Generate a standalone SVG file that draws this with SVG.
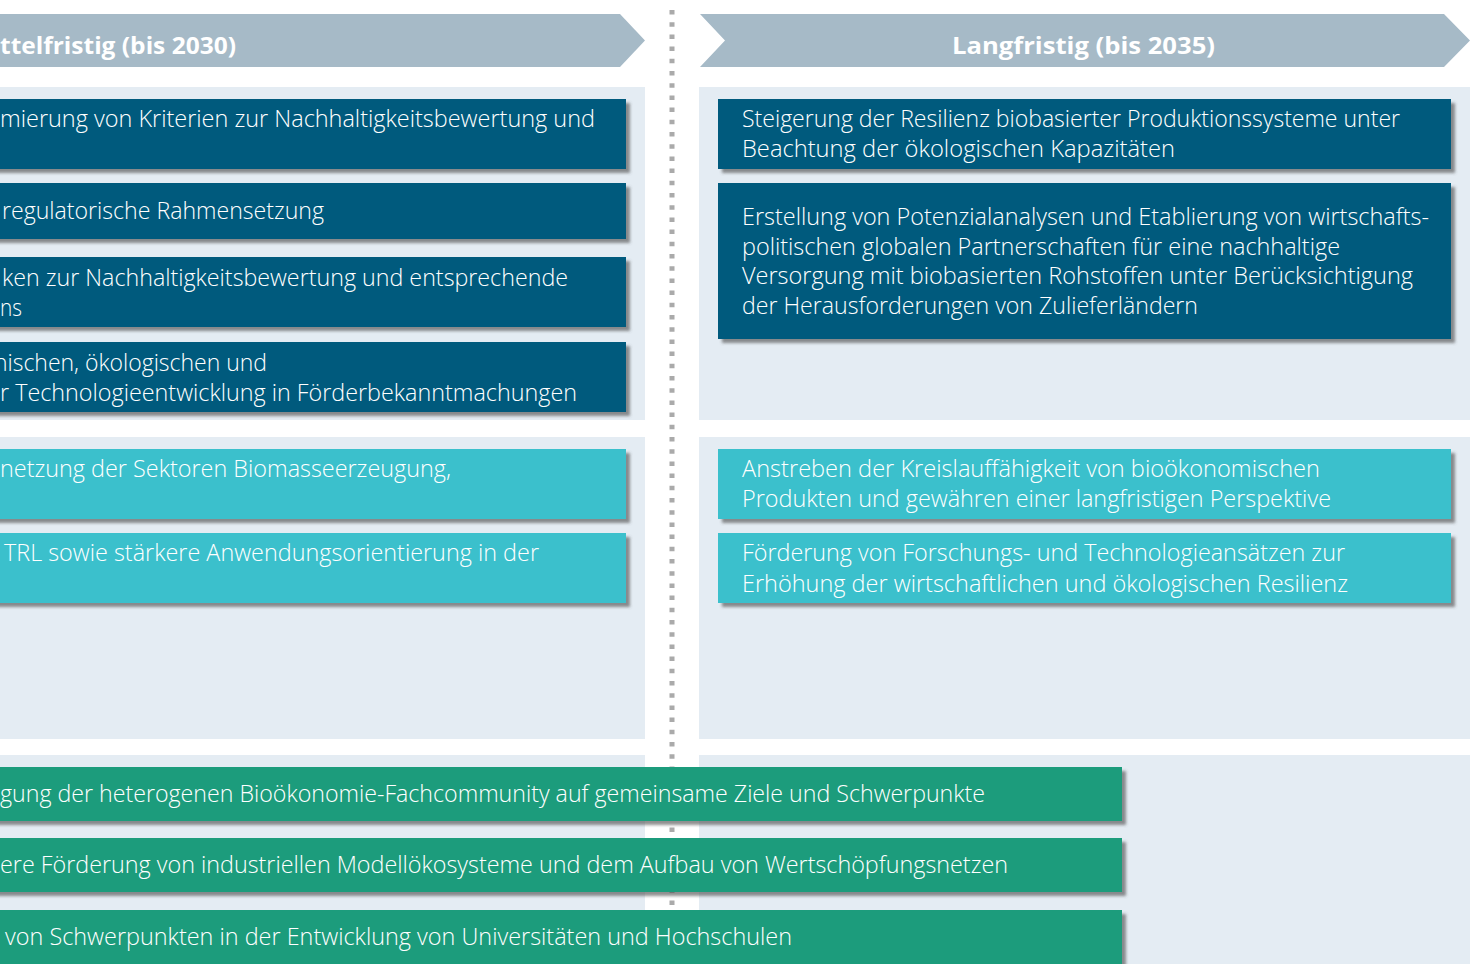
<svg xmlns="http://www.w3.org/2000/svg" width="1475" height="964" viewBox="0 0 1475 964">
<style>
.panel{fill:#e4ecf3}
.hdr{fill:#a6bac7}
.hdrtxt{font-family:"Open Sans","Liberation Sans",sans-serif;font-weight:700;font-size:24px;fill:#ffffff}
.dark{fill:#005a7d;filter:url(#sh)}
.teal{fill:#3bc0cc;filter:url(#sh)}
.green{fill:#1a9c7c;filter:url(#sh)}
.t{font-family:"Open Sans","Liberation Sans",sans-serif;font-weight:300;font-size:23px;fill:#ffffff}
</style>
<defs>
<filter id="sh" x="-5%" y="-20%" width="110%" height="150%">
<feDropShadow dx="4" dy="4" stdDeviation="1.5" flood-color="#555555" flood-opacity="0.65"/>
</filter>
</defs>
<rect width="1475" height="964" fill="#ffffff"/>
<g id="panels">
<rect class="panel" x="0" y="87" width="645" height="333"/>
<rect class="panel" x="0" y="437" width="645" height="302"/>
<rect class="panel" x="0" y="755" width="645" height="209"/>
<rect class="panel" x="699" y="87" width="771" height="333"/>
<rect class="panel" x="699" y="437" width="771" height="302"/>
<rect class="panel" x="699" y="755" width="771" height="209"/>
</g>
<g id="header-mittel">
<polygon class="hdr" points="-5,14 620,14 645,40.5 620,67 -5,67"/>
<text class="hdrtxt" x="0" y="54" textLength="236" lengthAdjust="spacingAndGlyphs">ttelfristig (bis 2030)</text>
</g>
<g id="header-lang">
<polygon class="hdr" points="700,14 1444,14 1470,40.5 1444,67 700,67 725,40.5"/>
<text class="hdrtxt" x="952" y="54" textLength="263" lengthAdjust="spacingAndGlyphs">Langfristig (bis 2035)</text>
</g>
<g id="connectors">
<line x1="672" y1="10" x2="672" y2="964" stroke="#aaaaaa" stroke-width="5" stroke-dasharray="4.5 7.7"/>
</g>
<g id="m1">
<rect class="dark" x="-10" y="99" width="636" height="70"/>
<text class="t" x="0" y="127" textLength="595" lengthAdjust="spacingAndGlyphs">mierung von Kriterien zur Nachhaltigkeitsbewertung und</text>
</g>
<g id="m2">
<rect class="dark" x="-10" y="183" width="636" height="56"/>
<text class="t" x="2" y="219" textLength="322" lengthAdjust="spacingAndGlyphs">regulatorische Rahmensetzung</text>
</g>
<g id="m3">
<rect class="dark" x="-10" y="257" width="636" height="70"/>
<text class="t" x="2" y="286" textLength="566" lengthAdjust="spacingAndGlyphs">ken zur Nachhaltigkeitsbewertung und entsprechende</text>
<text class="t" x="0" y="316" textLength="22" lengthAdjust="spacingAndGlyphs">ns</text>
</g>
<g id="m4">
<rect class="dark" x="-10" y="342" width="636" height="70"/>
<text class="t" x="-6" y="371" textLength="273" lengthAdjust="spacingAndGlyphs">nischen, ökologischen und</text>
<text class="t" x="0" y="401" textLength="577" lengthAdjust="spacingAndGlyphs">r Technologieentwicklung in Förderbekanntmachungen</text>
</g>
<g id="m5">
<rect class="teal" x="-10" y="449" width="636" height="70"/>
<text class="t" x="0" y="477" textLength="451" lengthAdjust="spacingAndGlyphs">netzung der Sektoren Biomasseerzeugung,</text>
</g>
<g id="m6">
<rect class="teal" x="-10" y="533" width="636" height="70"/>
<text class="t" x="4" y="561" textLength="535" lengthAdjust="spacingAndGlyphs">TRL sowie stärkere Anwendungsorientierung in der</text>
</g>
<g id="l1">
<rect class="dark" x="718" y="99" width="733" height="70"/>
<text class="t" x="742" y="127" textLength="658" lengthAdjust="spacingAndGlyphs">Steigerung der Resilienz biobasierter Produktionssysteme unter</text>
<text class="t" x="742" y="157" textLength="433" lengthAdjust="spacingAndGlyphs">Beachtung der ökologischen Kapazitäten</text>
</g>
<g id="l2">
<rect class="dark" x="718" y="183" width="733" height="156"/>
<text class="t" x="742" y="225" textLength="687" lengthAdjust="spacingAndGlyphs">Erstellung von Potenzialanalysen und Etablierung von wirtschafts-</text>
<text class="t" x="742" y="255" textLength="598" lengthAdjust="spacingAndGlyphs">politischen globalen Partnerschaften für eine nachhaltige</text>
<text class="t" x="742" y="284" textLength="671" lengthAdjust="spacingAndGlyphs">Versorgung mit biobasierten Rohstoffen unter Berücksichtigung</text>
<text class="t" x="742" y="314" textLength="456" lengthAdjust="spacingAndGlyphs">der Herausforderungen von Zulieferländern</text>
</g>
<g id="l3">
<rect class="teal" x="718" y="449" width="733" height="70"/>
<text class="t" x="742" y="477" textLength="578" lengthAdjust="spacingAndGlyphs">Anstreben der Kreislauffähigkeit von bioökonomischen</text>
<text class="t" x="742" y="507" textLength="589" lengthAdjust="spacingAndGlyphs">Produkten und gewähren einer langfristigen Perspektive</text>
</g>
<g id="l4">
<rect class="teal" x="718" y="533" width="733" height="70"/>
<text class="t" x="742" y="561" textLength="603" lengthAdjust="spacingAndGlyphs">Förderung von Forschungs- und Technologieansätzen zur</text>
<text class="t" x="742" y="592" textLength="606" lengthAdjust="spacingAndGlyphs">Erhöhung der wirtschaftlichen und ökologischen Resilienz</text>
</g>
<g id="g1">
<rect class="green" x="-10" y="767" width="1132" height="54"/>
<text class="t" x="0" y="802" textLength="985" lengthAdjust="spacingAndGlyphs">gung der heterogenen Bioökonomie-Fachcommunity auf gemeinsame Ziele und Schwerpunkte</text>
</g>
<g id="g2">
<rect class="green" x="-10" y="838" width="1132" height="54"/>
<text class="t" x="0" y="873" textLength="1008" lengthAdjust="spacingAndGlyphs">ere Förderung von industriellen Modellökosysteme und dem Aufbau von Wertschöpfungsnetzen</text>
</g>
<g id="g3">
<rect class="green" x="-10" y="910" width="1132" height="70"/>
<text class="t" x="5" y="945" textLength="787" lengthAdjust="spacingAndGlyphs">von Schwerpunkten in der Entwicklung von Universitäten und Hochschulen</text>
</g>
</svg>
